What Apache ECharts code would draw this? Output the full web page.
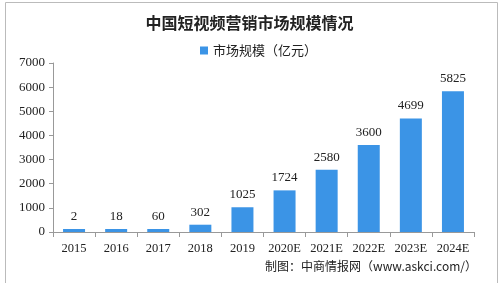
<!DOCTYPE html>
<html><head><meta charset="utf-8">
<script src="https://cdn.jsdelivr.net/npm/echarts@6/dist/echarts.min.js"></script>
<style>html,body{margin:0;padding:0;background:#fff}#c{width:499px;height:283px}</style>
</head><body><div id="c"></div>
<script>
var categories = ['2015','2016','2017','2018','2019','2020E','2021E','2022E','2023E','2024E'];
var values = [2, 18, 60, 302, 1025, 1724, 2580, 3600, 4699, 5825];
var seriesName = '市场规模（亿元）';
var titleText = '中国短视频营销市场规模情况';
var sourceText = '制图：中商情报网（www.askci.com/）';

var chart = echarts.init(document.getElementById('c'), null, {renderer:'canvas'});
chart.setOption({
  animation: false,
  backgroundColor: '#fff',
  textStyle: {fontFamily: '"Noto Sans CJK SC", "DejaVu Sans", sans-serif'},
  title: {text: titleText, left: 'center', top: 10,
    textStyle: {fontSize: 16, fontWeight: 'bold', color: '#222', fontFamily: '"Noto Sans CJK SC", sans-serif'}},
  legend: {data: [seriesName], top: 39, left: 195, itemWidth: 8, itemHeight: 8, itemGap: 3,
    icon: 'rect', textStyle: {fontSize: 13, color: '#222', fontFamily: '"Noto Sans CJK SC", sans-serif'}},
  grid: {left: 53, right: 25, top: 63, bottom: 51},
  xAxis: {type: 'category', data: categories,
    axisLine: {lineStyle: {color: '#999'}},
    axisTick: {show: true, lineStyle: {color: '#999'}, length: 5},
    axisLabel: {color: '#222', fontSize: 12.5, margin: 10, interval: 0, hideOverlap: false,
      fontFamily: '"Liberation Serif", "DejaVu Serif", serif'}},
  yAxis: {type: 'value', min: 0, max: 7000, interval: 1000,
    splitLine: {show: false},
    axisLine: {show: true, lineStyle: {color: '#999'}},
    axisTick: {show: true, length: 4, lineStyle: {color: '#999'}},
    axisLabel: {color: '#222', fontSize: 13, margin: 8, formatter: function(v){return String(v);},
      fontFamily: '"Liberation Serif", "DejaVu Serif", serif'}},
  series: [{name: seriesName, type: 'bar', data: values, barWidth: 22, barMinHeight: 3,
    itemStyle: {color: '#3b94e6'},
    label: {show: true, position: 'top', distance: 6, color: '#222', fontSize: 13,
      fontFamily: '"Liberation Serif", "DejaVu Serif", serif'}}],
  graphic: [
    {type: 'rect', left: 3, top: 0, shape: {width: 492, height: 281},
      style: {fill: 'none', stroke: '#bbb', lineWidth: 1}, silent: true},
    {type: 'text', right: 22, top: 260,
      style: {text: sourceText, fontSize: 12, fill: '#222', fontFamily: '"Noto Sans CJK SC", sans-serif'}}
  ]
});
</script></body></html>
